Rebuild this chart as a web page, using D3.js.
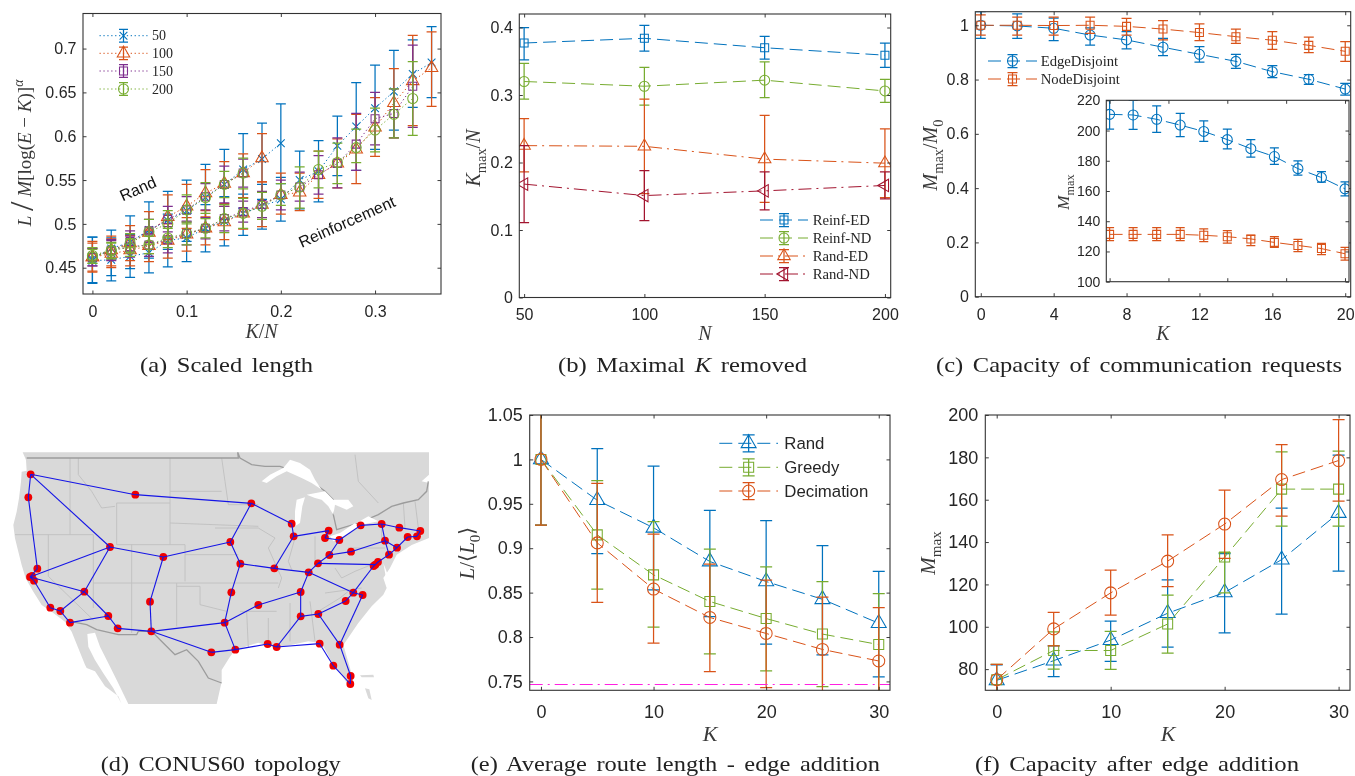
<!DOCTYPE html>
<html>
<head>
<meta charset="utf-8">
<script src="https://d3js.org/d3.v7.min.js"></script>
<style>
  html, body { margin: 0; padding: 0; background: #fff; overflow: hidden; }
  svg { display: block; filter: blur(0.3px); }
  .tick text { font-family: "Liberation Sans", sans-serif; fill: #262626; }
</style>
</head>
<body>
<div id="my_dataviz"></div>
<script>
var blue = "#0072BD", orange = "#D95319", purple = "#7E2F8E", green = "#77AC30", crimson = "#A2142F";

// ---- (a) scaled length ----
var aKN = [0,.02,.04,.06,.08,.1,.12,.14,.16,.18,.2,.22,.24,.26,.28,.3,.32,.34,.36];
var aXTicks = [0,.1,.2,.3], aYTicks = [.45,.5,.55,.6,.65,.7];

var rand50Mean = [.46,.472,.479,.493,.504,.515,.53,.545,.562,.574,.592];
var rand50Low  = [.433,.441,.449,.461,.471,.48,.492,.505,.518,.528,.546];
var rand50High = [.485,.493,.509,.525,.537,.55,.568,.585,.603,.615,.637];
var reinf50Mean = [.458,.459,.463,.467,.481,.484,.495,.503,.512,.52,.528,.55,.56,.589,.611,.632,.651,.671,.684];
var reinf50Low  = [.432,.435,.439,.444,.451,.457,.468,.475,.487,.494,.503,.517,.525,.555,.561,.585,.607,.633,.644];
var reinf50High = [.485,.484,.488,.491,.511,.512,.522,.531,.534,.545,.553,.583,.595,.623,.661,.681,.698,.71,.725];

var rand100Mean = [.462,.47,.478,.49,.508,.52,.535,.546,.558,.575];
var rand100Low  = [.445,.452,.458,.466,.482,.495,.508,.52,.53,.548];
var rand100High = [.48,.486,.498,.514,.533,.545,.562,.571,.58,.603];
var reinf100Mean = [.462,.466,.47,.475,.481,.488,.495,.502,.512,.522,.533,.536,.556,.569,.585,.61,.638,.663,.678];
var reinf100Low  = [.446,.45,.452,.457,.461,.469,.476,.482,.494,.497,.511,.515,.529,.541,.546,.577,.598,.612,.634];
var reinf100High = [.478,.483,.487,.493,.5,.507,.515,.523,.53,.548,.558,.558,.583,.597,.625,.644,.677,.715,.719];

var rand150Mean = [.462,.469,.48,.492,.505,.516,.531,.545,.558];
var rand150Low  = [.452,.458,.469,.479,.491,.502,.516,.524,.542];
var rand150High = [.472,.482,.492,.505,.52,.531,.546,.566,.574];
var reinf150Mean = [.462,.47,.474,.476,.482,.489,.495,.506,.514,.522,.533,.542,.556,.569,.591,.62,.626,.657];
var reinf150Low  = [.452,.459,.462,.463,.467,.476,.483,.492,.502,.507,.516,.526,.534,.541,.561,.59,.598,.61];
var reinf150High = [.472,.481,.486,.489,.497,.503,.507,.52,.526,.537,.55,.559,.578,.598,.626,.65,.654,.704];

var rand200Mean = [.462,.469,.478,.491,.5,.516,.53,.545,.558];
var rand200Low  = [.455,.46,.467,.477,.485,.5,.512,.53,.54];
var rand200High = [.471,.478,.489,.505,.515,.533,.547,.56,.575];
var reinf200Mean = [.464,.47,.473,.476,.484,.489,.495,.506,.512,.52,.533,.542,.562,.57,.587,.607,.625,.643];
var reinf200Low  = [.455,.461,.463,.466,.473,.476,.484,.49,.495,.505,.521,.518,.541,.546,.57,.582,.598,.601];
var reinf200High = [.473,.479,.483,.486,.495,.502,.506,.522,.529,.536,.546,.565,.583,.592,.608,.632,.654,.685];

// ---- (b) maximal K removed ----
var bN = [50,100,150,200];
var bYTicks = [0,.1,.2,.3,.4];
var reinfEDMean = [.377,.384,.37,.359], reinfEDLow = [.352,.365,.353,.341], reinfEDHigh = [.4,.403,.387,.377];
var reinfNDMean = [.32,.313,.322,.306], reinfNDLow = [.294,.285,.296,.289], reinfNDHigh = [.347,.341,.349,.323];
var randEDMean = [.225,.224,.205,.199], randEDLow = [.186,.154,.141,.148], randEDHigh = [.265,.294,.27,.25];
var randNDMean = [.168,.151,.158,.166], randNDLow = [.111,.114,.13,.146], randNDHigh = [.225,.188,.186,.186];

// ---- (c) capacity of communication requests ----
var cK = [0,2,4,6,8,10,12,14,16,18,20];
var cXTicks = [0,4,8,12,16,20], cYTicks = [0,.2,.4,.6,.8,1];
var edgeMean = [1,.9975,.989,.964,.946,.919,.893,.867,.829,.801,.765];
var edgeLow  = [.952,.952,.943,.927,.913,.888,.864,.841,.807,.782,.743];
var edgeHigh = [1.05,1.042,1.026,.99,.977,.952,.921,.893,.851,.818,.786];
var nodeMean = [1,1,.999,1,.996,.986,.973,.958,.945,.926,.904];
var nodeLow  = [.964,.964,.964,.97,.964,.946,.943,.933,.911,.899,.867];
var nodeHigh = [1.038,1.03,1.03,1.03,1.025,1.017,1.005,.986,.977,.956,.94];
var insetXTicks = [0,5,10,15,20], insetYTicks = [100,120,140,160,180,200,220];
var insetEdgeMean = [210.7,210.3,207.4,203.6,199.4,194,188,182.8,174.8,168.9,161.4];
var insetEdgeLow  = [201,200.8,198.8,196,192.9,187.8,182.4,177.6,170.5,165.9,156.7];
var insetEdgeHigh = [220,220,216.3,211.3,206.4,200.9,194,188.5,180,172.8,166];
var insetNodeMean = [131.3,131.3,131.3,131.3,130.7,129.8,128.3,126,124,121.9,118.5];
var insetNodeLow  = [127.2,127.2,127.2,127.2,126.5,125.6,123.8,122.7,119.9,117.9,114.3];
var insetNodeHigh = [135.8,135.8,135.8,135.8,134.9,133.8,130.7,129.8,128,125.4,122.7];

// ---- (d) CONUS60 topology, map units ----
var nodes = [[92,103],[85,172],[406,164],[754,190],[875,251],[881,289],[986,272],[975,294],[1018,300],[1082,256],
  [1145,252],[1198,263],[1261,273],[1251,289],[1223,291],[1155,302],[1191,323],[1167,344],[1053,335],[988,345],
  [954,370],[926,397],[823,385],[721,371],[691,306],[490,351],[330,321],[112,386],[90,411],[102,422],
  [253,455],[151,503],[181,513],[210,548],[325,528],[353,565],[454,574],[450,485],[694,457],[674,548],
  [775,495],[902,456],[902,529],[955,522],[1037,483],[1060,458],[1088,465],[1126,374],[1134,366],[1019,614],
  [959,611],[830,621],[803,612],[706,629],[634,637],[1000,677],[1052,708],[1051,732],[1121,378],[96,408]];
var links = [[0,1],[1,27],[0,2],[2,3],[0,26],[3,24],[3,4],[4,5],[5,6],[5,22],[6,7],[7,8],[8,9],[9,10],[10,11],[11,12],
  [12,13],[13,14],[14,16],[16,15],[15,10],[15,17],[16,17],[8,19],[19,18],[18,15],[19,20],[20,21],[20,47],[21,22],
  [22,23],[23,24],[24,25],[25,26],[26,28],[26,30],[28,30],[29,31],[31,32],[30,32],[30,34],[33,34],[32,33],[34,35],
  [35,36],[36,37],[37,25],[36,39],[36,54],[23,38],[38,39],[39,40],[40,41],[41,21],[41,42],[42,43],[42,51],[51,52],
  [52,53],[53,54],[53,39],[51,50],[50,55],[55,57],[57,56],[56,49],[49,46],[46,45],[45,21],[45,44],[44,43],[43,49],
  [45,58],[58,47],[47,48],[48,17],[27,28],[28,29],[28,59]];
var land = [[30,37],[68,37],[78,60],[80,92],[65,95],[63,125],[57,175],[50,215],[40,255],[45,295],[55,335],[65,375],
  [77,415],[100,455],[125,495],[155,515],[195,545],[215,575],[235,625],[255,674],[260,684],[285,694],[315,739],
  [355,769],[365,792],[340,745],[310,700],[285,660],[265,620],[262,582],[285,578],[300,620],[325,670],[350,720],
  [385,792],[650,792],[665,725],[665,690],[690,650],[705,630],[775,608],[830,624],
  [925,604],[965,610],[995,665],[1025,705],[1050,744],[1060,724],[1050,684],[1030,615],[1075,549],[1115,499],
  [1150,464],[1160,444],[1150,414],[1170,384],[1190,344],[1235,315],[1287,294],[1287,129],[1265,124],[1287,104],
  [1287,37]];
var islandA = [[1080,706],[1120,704],[1122,712],[1085,712]];
var islandB = [[1095,745],[1108,748],[1115,780],[1105,775]];
var pugetSound = [[30,65],[45,52],[65,72],[78,80],[60,85],[45,70]];
var lakes = [
  [[785,124],[810,104],[850,84],[870,59],[900,69],[930,89],[945,119],[965,149],[935,129],[905,114],[860,94],[830,109],[800,129]],
  [[890,179],[915,172],[907,199],[900,249],[885,259],[885,214]],
  [[920,164],[975,154],[1000,179],[1045,179],[1060,199],[1040,209],[1005,194],[1000,224],[985,199],[965,179],[945,174]],
  [[990,289],[1020,279],[1065,249],[1075,259],[1030,289],[1000,304]],
  [[1070,249],[1105,229],[1135,244],[1085,254]],
  [[1150,369],[1165,409],[1157,409]]
];
var nationalBorders = [
  [[80,54],[660,54],[715,54],[713,37],[720,54],[755,74],[795,79],[840,79],[885,94],[935,124],[975,154],[1000,179],[1000,224],[1010,269],[1075,249],[1135,224],[1175,199],[1210,189],[1255,179],[1280,154],[1285,124]],
  [[210,544],[260,554],[290,569],[355,584],[410,584],[415,574],[455,574],[495,614],[525,644],[560,629],[595,664],[625,714],[665,729]]
];
var stateBorders = [
  [[210,54],[210,284]],[[235,54],[235,104],[275,154],[305,204],[345,199]],[[350,189],[510,189]],[[510,54],[510,314]],
  [[350,189],[350,314],[555,314]],[[45,284],[280,284]],[[145,284],[145,409],[280,540]],[[280,284],[280,504]],
  [[280,429],[835,429]],[[395,314],[395,579]],[[530,429],[530,559]],[[530,439],[600,439],[600,494],[680,514]],
  [[555,314],[555,424]],[[510,249],[775,259]],[[510,154],[665,154]],[[555,344],[715,344]],
  [[665,54],[675,124],[685,194]],[[645,264],[775,264],[825,294],[805,324],[845,414],[835,444]],[[685,194],[775,194]],
  [[945,289],[945,364]],[[885,294],[865,364],[875,389]],[[720,514],[830,514]],[[740,514],[745,624]],[[805,534],[805,614]],
  [[870,489],[870,604]],[[930,484],[945,604]],[[955,514],[1020,474],[1045,454]],[[975,459],[1085,444]],
  [[1005,384],[1025,414],[1065,394],[1115,374]],[[1045,324],[1155,324]],[[1145,294],[1145,254]],[[1210,189],[1215,264]],
  [[1245,184],[1255,264]],[[1065,44],[1075,124],[1135,189]]
];

// ---- (e) average route length, (f) capacity after edge addition ----
var addK = [0,5,10,15,20,25,30];
var addXTicks = [0,10,20,30];
var eYTicks = [.75,.8,.85,.9,.95,1,1.05];
var eRandMean = [1,.954,.923,.885,.8625,.8425,.8155];
var eRandLow  = [.926,.894,.853,.823,.792,.78,.755];
var eRandHigh = [1.074,1.012,.9925,.9425,.931,.903,.874];
var eGreedyMean = [1,.915,.87,.84,.8208,.8033,.7915];
var eGreedyLow  = [.926,.854,.811,.781,.762,.744,.735];
var eGreedyHigh = [1.074,.976,.93,.899,.879,.8625,.849];
var eDecMean = [1,.906,.854,.822,.804,.786,.773];
var eDecLow  = [.926,.839,.793,.761,.743,.727,.714];
var eDecHigh = [1.074,.973,.916,.882,.864,.845,.833];
var eLowerBound = .7465;

var fYTicks = [80,100,120,140,160,180,200];
var fRandMean = [74.7,84,93.7,106.4,116.2,131.7,153.7];
var fRandLow  = [67.5,76.4,83.6,90.4,97.1,106,126.3];
var fRandHigh = [82,91,102.7,122.2,134.5,156,181];
var fGreedyMean = [75,88.8,88.8,101.3,132.9,165,165];
var fGreedyLow  = [67.5,80,79.9,87.6,116,147.5,147.5];
var fGreedyHigh = [82.2,97.6,97.8,115,135,182.6,183];
var fDecMean = [75,99,116,131,148.5,169.5,178.5];
var fDecLow  = [67.5,91,105.5,119,132.3,152.3,159.3];
var fDecHigh = [82.2,106.8,126.7,143.4,164.5,186,197.8];

var dashed = "13,6", dashdot = "13,5,2,5", dotted = "1.3,2.6";
var serif = '"Liberation Serif", serif', sans = '"Liberation Sans", sans-serif';

var svg = d3.select("#my_dataviz").append("svg").attr("width", 1355).attr("height", 776);

// marker outline, w is the width in pixels
function markerPath(type, w) {
  if (type == "circle") return d3.symbol().type(d3.symbolCircle).size(Math.PI * w * w / 4)();
  if (type == "square") return d3.symbol().type(d3.symbolSquare).size(w * w)();
  if (type == "x") return d3.symbol().type(d3.symbolTimes).size(w * w / 2)();
  return d3.symbol().type(d3.symbolTriangle).size(w * w * Math.sqrt(3) / 4)();
}

// axes box, inward ticks on all four sides
var clipCount = 0;
function makePanel(b, dx, dy, xTicks, yTicks, fontSize, xPad, yPad, showX) {
  var x = d3.scaleLinear().domain(dx).range([b.x0, b.x1]);
  var y = d3.scaleLinear().domain(dy).range([b.y1, b.y0]);
  var g = svg.append("g");
  g.append("rect").attr("x", b.x0).attr("y", b.y0).attr("width", b.x1 - b.x0).attr("height", b.y1 - b.y0).attr("fill", "#fff");
  clipCount++;
  var id = "clip" + clipCount;
  g.append("clipPath").attr("id", id).append("rect")
    .attr("x", b.x0).attr("y", b.y0).attr("width", b.x1 - b.x0).attr("height", b.y1 - b.y0);
  var plot = g.append("g").attr("clip-path", "url(#" + id + ")");

  var axes = [
    [d3.axisBottom(x).tickValues(xTicks).tickFormat(showX === false ? "" : String), "translate(0," + b.y1 + ")", xPad],
    [d3.axisTop(x).tickValues(xTicks).tickFormat(""), "translate(0," + b.y0 + ")", 0],
    [d3.axisLeft(y).tickValues(yTicks).tickFormat(String), "translate(" + b.x0 + ",0)", yPad],
    [d3.axisRight(y).tickValues(yTicks).tickFormat(""), "translate(" + b.x1 + ",0)", 0]
  ];
  var frame = g.append("g");
  axes.forEach(function(a) {
    var ag = frame.append("g").attr("transform", a[1])
      .call(a[0].tickSizeInner(-3.5).tickSizeOuter(0).tickPadding(a[2]));
    ag.select(".domain").remove();
    ag.selectAll(".tick line").attr("stroke", "#262626").attr("stroke-width", 0.9);
    ag.selectAll(".tick text").style("font-size", fontSize + "px");
  });
  g.append("rect").attr("x", b.x0).attr("y", b.y0).attr("width", b.x1 - b.x0).attr("height", b.y1 - b.y0)
    .attr("fill", "none").attr("stroke", "#333").attr("stroke-width", 1.1);
  return {x: x, y: y, plot: plot, g: g};
}

function errorBar(sel, x, lo, hi, cap, color) {
  var p = d3.path();
  p.moveTo(x, lo); p.lineTo(x, hi);
  p.moveTo(x - cap, lo); p.lineTo(x + cap, lo);
  p.moveTo(x - cap, hi); p.lineTo(x + cap, hi);
  sel.append("path").attr("d", p.toString()).attr("fill", "none").attr("stroke", color).attr("stroke-width", 1.25);
}

function drawMarker(sel, cx, cy, s) {
  var rot = s.marker == "left" ? " rotate(-90)" : "";
  sel.append("path")
    .attr("d", markerPath(s.marker, s.size))
    .attr("transform", "translate(" + cx + "," + cy + ")" + rot)
    .attr("fill", "none").attr("stroke", s.color).attr("stroke-width", 1.05);
}

function drawSeries(p, xs, s) {
  var pts = s.mean.map(function(m, i) { return [p.x(xs[i]), p.y(m)]; });
  p.plot.append("path").attr("d", d3.line()(pts))
    .attr("fill", "none").attr("stroke", s.color).attr("stroke-width", 1).attr("stroke-dasharray", s.dash);
  s.mean.forEach(function(m, i) {
    errorBar(p.plot, p.x(xs[i]), p.y(s.low[i]), p.y(s.high[i]), s.cap, s.color);
    drawMarker(p.plot, p.x(xs[i]), p.y(m), s);
  });
}

// legend rows: sample line, errorbar, marker, label
function legend(g, rows, x0, x1, xText, ys, font, fontSize, errH) {
  rows.forEach(function(r, i) {
    var y = ys[i], mid = (x0 + x1) / 2;
    g.append("line").attr("x1", x0).attr("x2", x1).attr("y1", y).attr("y2", y)
      .attr("stroke", r.color).attr("stroke-width", 1).attr("stroke-dasharray", r.dash);
    errorBar(g, mid, y + errH, y - errH, r.cap, r.color);
    drawMarker(g, mid, y, r);
    g.append("text").attr("x", xText).attr("y", y).attr("dy", "0.33em").text(r.name)
      .style("font-family", font).style("font-size", fontSize + "px").attr("fill", "#262626");
  });
}

// label with italic, sub and superscript runs
function mathText(x, y, rot, size, parts) {
  var t = svg.append("text").attr("transform", "translate(" + x + "," + y + ") rotate(" + rot + ")")
    .attr("text-anchor", "middle").attr("fill", "#3a3a3a").style("font-family", serif).style("font-size", size + "px");
  var shift = 0;
  parts.forEach(function(part) {
    var kind = part[1], target = 0, fs = size;
    if (kind == "sub") { target = size * 0.28; fs = size * 0.72; }
    if (kind == "sup") { target = -size * 0.42; fs = size * 0.72; }
    if (kind == "big") { fs = size * 1.8; target = size * 0.1; }
    t.append("tspan").attr("dy", target - shift).style("font-size", fs + "px")
      .style("font-style", (kind == "i" || kind == "sup") ? "italic" : "normal").text(part[0]);
    shift = target;
  });
}

function caption(html, x0, x1, y) {
  svg.append("text").attr("x", x0).attr("y", y).attr("textLength", x1 - x0).attr("lengthAdjust", "spacingAndGlyphs")
    .attr("fill", "#222").style("font-family", serif).style("font-size", "21.5px").style("word-spacing", "3px").html(html);
}

// ---- panel a ----
var pa = makePanel({x0: 83, x1: 441, y0: 13.5, y1: 294}, [-.01, .37], [.42, .74], aXTicks, aYTicks, 16, 11.5, 6.5);
var aSeries = [
  {mean: rand50Mean, low: rand50Low, high: rand50High, color: blue, marker: "x", size: 9},
  {mean: reinf50Mean, low: reinf50Low, high: reinf50High, color: blue, marker: "x", size: 9},
  {mean: rand100Mean, low: rand100Low, high: rand100High, color: orange, marker: "triangle", size: 12.5},
  {mean: reinf100Mean, low: reinf100Low, high: reinf100High, color: orange, marker: "triangle", size: 12.5},
  {mean: rand150Mean, low: rand150Low, high: rand150High, color: purple, marker: "square", size: 8},
  {mean: reinf150Mean, low: reinf150Low, high: reinf150High, color: purple, marker: "square", size: 8},
  {mean: rand200Mean, low: rand200Low, high: rand200High, color: green, marker: "circle", size: 10},
  {mean: reinf200Mean, low: reinf200Low, high: reinf200High, color: green, marker: "circle", size: 10}
];
aSeries.forEach(function(s) { s.dash = dotted; s.cap = 5; drawSeries(pa, aKN, s); });
legend(pa.g, [
  {name: "50", color: blue, marker: "x", size: 9, dash: dotted, cap: 4.5},
  {name: "100", color: orange, marker: "triangle", size: 12.5, dash: dotted, cap: 4.5},
  {name: "150", color: purple, marker: "square", size: 8, dash: dotted, cap: 4.5},
  {name: "200", color: green, marker: "circle", size: 10, dash: dotted, cap: 4.5}
], 99.5, 147.5, 152, [35.7, 53.3, 71, 89], serif, 14, 6.3);
[["Rand", 138, 189], ["Reinforcement", 347, 222]].forEach(function(t) {
  svg.append("text").attr("transform", "translate(" + t[1] + "," + t[2] + ") rotate(-24)")
    .attr("text-anchor", "middle").attr("dy", "0.33em").attr("fill", "#111")
    .style("font-family", sans).style("font-size", "16px").text(t[0]);
});
mathText(261.5, 338, 0, 20, [["K", "i"], ["/", "r"], ["N", "i"]]);
mathText(31, 153, -90, 19, [["L", "i"], [" ", "r"], ["/", "big"], [" ", "r"], ["M", "i"], ["[log(", "r"], ["E", "i"], [" − ", "r"], ["K", "i"], [")]", "r"], ["α", "sup"]]);

// ---- panel b ----
var pb = makePanel({x0: 519.3, x1: 890.7, y0: 14, y1: 297.5}, [48, 202.4], [0, .42], bN, bYTicks, 16, 11.5, 6.5);
var bRows = [
  {name: "Reinf-ED", mean: reinfEDMean, low: reinfEDLow, high: reinfEDHigh, color: blue, marker: "square", size: 8, dash: dashed, cap: 5},
  {name: "Reinf-ND", mean: reinfNDMean, low: reinfNDLow, high: reinfNDHigh, color: green, marker: "circle", size: 10, dash: dashed, cap: 5},
  {name: "Rand-ED", mean: randEDMean, low: randEDLow, high: randEDHigh, color: orange, marker: "triangle", size: 12.5, dash: dashdot, cap: 5},
  {name: "Rand-ND", mean: randNDMean, low: randNDLow, high: randNDHigh, color: crimson, marker: "left", size: 12.5, dash: dashdot, cap: 5}
];
bRows.forEach(function(s) { drawSeries(pb, bN, s); });
legend(pb.g, bRows, 760, 808, 812.7, [220, 238, 256, 274], serif, 14.7, 6.5);
mathText(705, 340, 0, 20, [["N", "i"]]);
mathText(480, 158, -90, 20, [["K", "i"], ["max", "sub"], ["/", "r"], ["N", "i"]]);

// ---- panel c, with inset ----
var pc = makePanel({x0: 975.3, x1: 1350.7, y0: 11.7, y1: 296.7}, [-.3, 20.3], [0, 1.05], cXTicks, cYTicks, 16, 11.5, 6.5);
var cRows = [
  {name: "EdgeDisjoint", mean: edgeMean, low: edgeLow, high: edgeHigh, color: blue, marker: "circle", size: 10, dash: dashed, cap: 5},
  {name: "NodeDisjoint", mean: nodeMean, low: nodeLow, high: nodeHigh, color: orange, marker: "square", size: 8, dash: dashed, cap: 5}
];
cRows.forEach(function(s) { drawSeries(pc, cK, s); });
legend(pc.g, cRows, 988, 1037, 1040.7, [61, 79], serif, 14.7, 6.5);
mathText(1163, 340, 0, 20, [["K", "i"]]);
mathText(937, 155, -90, 20, [["M", "i"], ["max", "sub"], ["/", "r"], ["M", "i"], ["0", "sub"]]);

var pi = makePanel({x0: 1106.3, x1: 1349, y0: 100.3, y1: 281.7}, [-.28, 20.34], [100, 220], insetXTicks, insetYTicks, 14, 0, 6, false);
drawSeries(pi, cK, {mean: insetEdgeMean, low: insetEdgeLow, high: insetEdgeHigh, color: blue, marker: "circle", size: 10, dash: dashed, cap: 4.5});
drawSeries(pi, cK, {mean: insetNodeMean, low: insetNodeLow, high: insetNodeHigh, color: orange, marker: "square", size: 8, dash: dashed, cap: 4.5});
mathText(1069, 192, -90, 17, [["M", "i"], ["max", "sub"]]);

// ---- panel d, map ----
var mapX = d3.scaleLinear().domain([0, 1350]).range([0, 450]);
var mapY = d3.scaleLinear().domain([0, 1008]).range([440, 776]);
var mapLine = d3.line().x(function(d) { return mapX(d[0]); }).y(function(d) { return mapY(d[1]); });
var mg = svg.append("g");
mg.append("path").attr("d", mapLine(land) + "Z").attr("fill", "#d9d9d9");
[islandA, islandB].forEach(function(s) { mg.append("path").attr("d", mapLine(s) + "Z").attr("fill", "#d9d9d9"); });
stateBorders.forEach(function(s) {
  mg.append("path").attr("d", mapLine(s)).attr("fill", "none").attr("stroke", "#c0c0c0").attr("stroke-width", 0.9);
});
nationalBorders.forEach(function(s) {
  mg.append("path").attr("d", mapLine(s)).attr("fill", "none").attr("stroke", "#9c9c9c").attr("stroke-width", 1.3);
});
lakes.concat([pugetSound]).forEach(function(s) { mg.append("path").attr("d", mapLine(s) + "Z").attr("fill", "#fff"); });
mg.selectAll("circle").data(nodes).enter().append("circle")
  .attr("cx", function(d) { return mapX(d[0]); }).attr("cy", function(d) { return mapY(d[1]); })
  .attr("r", 3.9).attr("fill", "#f00000");
mg.selectAll("line.link").data(links).enter().append("line").attr("class", "link")
  .attr("x1", function(d) { return mapX(nodes[d[0]][0]); }).attr("y1", function(d) { return mapY(nodes[d[0]][1]); })
  .attr("x2", function(d) { return mapX(nodes[d[1]][0]); }).attr("y2", function(d) { return mapY(nodes[d[1]][1]); })
  .attr("stroke", "#1414e6").attr("stroke-width", 1.1);

// ---- panel e ----
var pe = makePanel({x0: 529.7, x1: 890, y0: 415, y1: 690.3}, [-1, 31], [.74, 1.05], addXTicks, eYTicks, 18, 14.5, 7);
var eRows = [
  {name: "Rand", mean: eRandMean, low: eRandLow, high: eRandHigh, color: blue, marker: "triangle", size: 15, dash: dashed, cap: 6},
  {name: "Greedy", mean: eGreedyMean, low: eGreedyLow, high: eGreedyHigh, color: green, marker: "square", size: 10, dash: dashed, cap: 6},
  {name: "Decimation", mean: eDecMean, low: eDecLow, high: eDecHigh, color: orange, marker: "circle", size: 12, dash: dashed, cap: 6}
];
eRows.forEach(function(s) { drawSeries(pe, addK, s); });
pe.plot.append("line").attr("x1", pe.x(-1)).attr("x2", pe.x(31)).attr("y1", pe.y(eLowerBound)).attr("y2", pe.y(eLowerBound))
  .attr("stroke", "#ff20e0").attr("stroke-width", 1.1).attr("stroke-dasharray", dashdot);
legend(pe.g, eRows, 719.3, 778, 784.3, [443.3, 467.3, 491], sans, 16.8, 8.5);
mathText(710, 741, 0, 22, [["K", "i"]]);
mathText(474, 553, -90, 21, [["L", "i"], ["/⟨", "r"], ["L", "i"], ["0", "sub"], ["⟩", "r"]]);

// ---- panel f ----
var pf = makePanel({x0: 985.3, x1: 1350, y0: 415, y1: 690.3}, [-1, 31], [70, 200], addXTicks, fYTicks, 18, 14.5, 7);
[
  {mean: fRandMean, low: fRandLow, high: fRandHigh, color: blue, marker: "triangle", size: 15, dash: dashed, cap: 6},
  {mean: fGreedyMean, low: fGreedyLow, high: fGreedyHigh, color: green, marker: "square", size: 10, dash: dashed, cap: 6},
  {mean: fDecMean, low: fDecLow, high: fDecHigh, color: orange, marker: "circle", size: 12, dash: dashed, cap: 6}
].forEach(function(s) { drawSeries(pf, addK, s); });
mathText(1168, 741, 0, 22, [["K", "i"]]);
mathText(935, 553, -90, 21, [["M", "i"], ["max", "sub"]]);

// captions
caption("(a) Scaled length", 140, 313, 372);
caption('(b) Maximal <tspan font-style="italic">K</tspan> removed', 558, 807, 372);
caption("(c) Capacity of communication requests", 936, 1342, 372);
caption("(d) CONUS60 topology", 100.7, 340.7, 771);
caption("(e) Average route length - edge addition", 470.7, 880, 771);
caption("(f) Capacity after edge addition", 975, 1299, 771);
</script>
</body>
</html>
